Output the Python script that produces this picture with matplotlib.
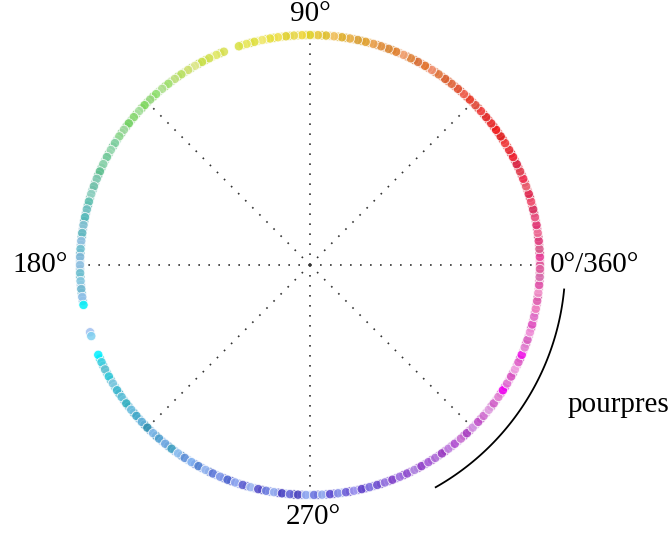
import numpy as np
import matplotlib
matplotlib.use("Agg")
import matplotlib.pyplot as plt

# hue angle (degrees) of each colour and the colour itself
hue_deg = [
    0, 2, 4, 6, 8, 10, 12, 14, 16, 18,
    20, 22, 24, 26, 28, 30, 32, 34, 36, 38,
    40, 42, 44, 46, 48, 50, 52, 54, 56, 58,
    60, 62, 64, 66, 68, 70, 72, 74, 76, 78,
    80, 82, 84, 86, 88, 90, 92, 94, 96, 98,
    100, 102, 104, 106, 108, 112, 114, 116, 118, 120,
    122, 124, 126, 128, 130, 132, 134, 136, 138, 140,
    142, 144, 146, 148, 150, 152, 154, 156, 158, 160,
    162, 164, 166, 168, 170, 172, 174, 176, 178, 180,
    182, 184, 186, 188, 190, 197, 198, 203, 205, 207,
    209, 211, 213, 215, 217, 219, 221, 223, 225, 227,
    229, 231, 233, 235, 237, 239, 241, 243, 245, 247,
    249, 251, 253, 255, 257, 259, 261, 263, 265, 267,
    269, 271, 273, 275, 277, 279, 281, 283, 285, 287,
    289, 291, 293, 295, 297, 299, 301, 303, 305, 307,
    309, 311, 313, 315, 317, 319, 321, 323, 325, 327,
    329, 331, 333, 335, 337, 339, 341, 343, 345, 347,
    349, 351, 353, 355, 357, 359,
]
hue_color = [
    "#e0589a", "#e8409a", "#d86090", "#e04080", "#f07098", "#e03070", "#e85080", "#d83060", "#f05070", "#e02850",
    "#e86070", "#f03050", "#e04050", "#d82040", "#f02030", "#e83038", "#f04040", "#e02020", "#f01818", "#e83030",
    "#e02828", "#f04040", "#e05040", "#e83828", "#f06050", "#e05030", "#e06a40", "#d86030", "#e07840", "#f09070",
    "#e07028", "#d87038", "#e08840", "#f0a070", "#e08030", "#d88838", "#e09040", "#e8a050", "#e0a030", "#d8a038",
    "#e8b048", "#e0b030", "#f0c060", "#e0c030", "#e8c840", "#e0d028", "#f0d840", "#e8d850", "#e0d030", "#f0e050",
    "#e8e040", "#f0e870", "#e0e040", "#e8e860", "#d8e040", "#d8e050", "#e0e868", "#d0e050", "#c8e048", "#e0e890",
    "#d0e070", "#b8e060", "#c0e080", "#a0e070", "#b0e090", "#90e070", "#98d880", "#80d860", "#a8e0a0", "#88d870",
    "#70d060", "#a0d8a0", "#90d890", "#80d0a0", "#98d8b0", "#70c898", "#88d0a8", "#60c090", "#80c8b0", "#70c0a8",
    "#90d0c0", "#60c0b0", "#70c0c0", "#50b8b8", "#80c0d0", "#60b8c0", "#90c0e0", "#70c0d0", "#80b8d8", "#90c0e0",
    "#70c0d0", "#88c8e0", "#70b8d0", "#90c0e8", "#00f0f8", "#a0c0f0", "#80d0f0", "#00f0ff", "#40d0e0", "#60c0d0",
    "#30c8d8", "#80c8e0", "#40b8d0", "#60c0d8", "#30b0c0", "#70c0e0", "#40a8c8", "#60b0d8", "#3090b0", "#80b8e8",
    "#50a0d0", "#70a8e0", "#40a0c0", "#90c0f0", "#6090d8", "#80b0f0", "#5080d0", "#98b8f0", "#6078d8", "#8098e8",
    "#5068d0", "#90a8f0", "#6060d0", "#a0b8f0", "#5850c8", "#7080e0", "#98b0f0", "#4840c0", "#6868d8", "#5048c0",
    "#90a8f0", "#7078e0", "#98b0f0", "#6050d0", "#8890e8", "#7060d8", "#a098f0", "#6040c8", "#8070e0", "#7050d0",
    "#9878e0", "#8040c8", "#a070e0", "#9050d0", "#b088e0", "#9040c8", "#a860d8", "#b070d8", "#9838c0", "#c080e0",
    "#b050d0", "#c870d0", "#a840c0", "#d090e0", "#c050c8", "#d070d0", "#e0a0e0", "#d060c8", "#e080d0", "#f000f0",
    "#e070d0", "#d850c0", "#f0a0e0", "#e060c8", "#f010e8", "#e080d0", "#d860c0", "#f090d8", "#e050c0", "#e070c8",
    "#f080c0", "#e060b0", "#f090c8", "#e050a8", "#d870b0", "#e060a0",
]

# second batch of colours, filling between the first ones
hue_deg_b = [
    1, 3, 5, 7, 9, 11, 13, 15, 17, 19,
    21, 23, 25, 27, 29, 31, 33, 35, 37, 39,
    41, 43, 45, 47, 49, 51, 53, 55, 57, 59,
    61, 63, 65, 67, 69, 71, 73, 75, 77, 79,
    81, 83, 85, 87, 89, 91, 93, 95, 97, 99,
    101, 103, 105, 107, 113, 115, 117, 119, 121, 123,
    125, 127, 129, 131, 133, 135, 137, 139, 141, 143,
    145, 147, 149, 151, 153, 155, 157, 159, 161, 163,
    165, 167, 169, 171, 173, 175, 177, 179, 181, 183,
    185, 187, 189,
    204, 206, 208, 210, 212, 214, 216, 218, 220, 222,
    224, 226, 228, 230, 232, 234, 236, 238, 240, 242,
    244, 246, 248, 250, 252, 254, 256, 258, 260, 262,
    264, 266, 268, 270, 272, 274, 276, 278, 280, 282,
    284, 286, 288, 290, 292, 294, 296, 298, 300, 302,
    304, 306, 308, 310, 312, 314, 316, 318, 320, 322,
    324, 326, 328, 330, 332, 334, 336, 338, 340, 342,
    344, 346, 348, 350, 352, 354, 356, 358,
]
hue_color_b = [
    "#f080b0", "#d03070", "#e870a0", "#c83068", "#e05088", "#f090a8", "#d84068", "#e86878", "#c82848", "#f07080",
    "#e03048", "#d85060", "#f04058", "#e06070", "#d01828", "#f05050", "#e01010", "#f06060", "#d82828", "#f04848",
    "#e06050", "#d83020", "#f07060", "#e04828", "#d86048", "#f08060", "#e05828", "#f09068", "#d86830", "#e88050",
    "#f0a080", "#e07030", "#d88048", "#f0b080", "#e08828", "#e8a060", "#d89040", "#f0b860", "#e0a838", "#f0c070",
    "#d8b040", "#e8c050", "#f0d080", "#d8c038", "#f0e070", "#d8c820", "#e8e078", "#e0d838", "#f0e888", "#d8d830",
    "#e8e050", "#f0f090", "#d8d838", "#e8e878", "#c8d840", "#f0f0a0", "#d8e060", "#c0d850", "#b8e070", "#d0e8a0",
    "#a8d860", "#b8e090", "#98d868", "#c0e8b0", "#80d050", "#a0e090", "#78c860", "#90d880", "#b0e0b0", "#80d080",
    "#70c878", "#a0d8b8", "#68c090", "#88d0a0", "#a8e0c8", "#70c8a0", "#58b890", "#98d0c0", "#68c0b0", "#80c8b8",
    "#58b8b0", "#90c8d0", "#60b0b8", "#a0c8e0", "#68b8c8", "#88c0d8", "#60b0c8", "#98c8e8", "#80b8d8", "#60b8c8",
    "#98c0e0", "#78c0d8", "#88c0e0",
    "#20d8e8", "#50c0d8", "#70d0e0", "#40b0c8", "#60c8d8", "#30a8c0", "#80c0e0", "#50b0d0", "#38a0c0", "#70b8e0",
    "#4098c0", "#68a8d8", "#3088b8", "#88b8f0", "#5098d0", "#78b0e8", "#4888c8", "#a0c8f8", "#6888d8", "#88a8f0",
    "#4870c8", "#a0b8f8", "#7080e0", "#5058c8", "#88a0f0", "#6068d8", "#b0c0f8", "#4848c0", "#8090e8", "#5858d0",
    "#a0b8f8", "#3838b0", "#7078e0", "#a8c0f8", "#5050c8", "#8088e8", "#6858d8", "#98a8f0", "#5838c0", "#8878e0",
    "#7058d8", "#a090e8", "#6838c0", "#9068d8", "#a080e8", "#8038c0", "#a868d8", "#9848c8", "#b880e0", "#9030c0",
    "#c090e0", "#a848c8", "#b868d0", "#d0a0e8", "#b040c8", "#c868d0", "#d8a8e8", "#c048c0", "#e090e0", "#c850c0",
    "#e8a8e8", "#d868c8", "#e020e8", "#f0a8e8", "#d070c8", "#e890d8", "#d040c0", "#f0b0e0", "#e060c0", "#e8a0d8",
    "#d050b0", "#f0a0d0", "#d860b8", "#e890c8", "#d04898", "#f0a0c8", "#e07ab0", "#d85090",
]

grid_deg = [0, 45, 90, 135, 180, 225, 270, 315]
arc_start, arc_end = -5.5, -60.5

fig = plt.figure(figsize=(6.72, 5.36), dpi=100)
ax = fig.add_axes([0, 0, 1, 1])
ax.set_xlim(-310 / 230, 362 / 230)
ax.set_ylim(-271 / 230, 265 / 230)
ax.axis("off")

# lignes pointillées depuis le centre
for g in grid_deg:
    t = np.deg2rad(g)
    ax.plot([0, np.cos(t)], [0, np.sin(t)], color="#333333",
            linestyle=(0, (1, 5)), linewidth=1.2, zorder=1)

tb = np.deg2rad(hue_deg_b)
ax.scatter(np.cos(tb), np.sin(tb), s=45, c=hue_color_b, marker="o",
           edgecolors="white", linewidths=0.6, alpha=0.85, zorder=2)
t = np.deg2rad(hue_deg)
ax.scatter(np.cos(t), np.sin(t), s=45, c=hue_color, marker="o",
           edgecolors="white", linewidths=0.6, alpha=0.85, zorder=3)

# arc des pourpres
ta = np.deg2rad(np.linspace(arc_start, arc_end, 100))
ax.plot(1.11 * np.cos(ta), 1.11 * np.sin(ta), color="black", linewidth=1.3)

font = dict(family="Liberation Serif", fontsize=21)
ax.text(0, 1.09, "90°", ha="center", va="center", **font)
ax.text(1.043, 0.0, "0°/360°", ha="left", va="center", **font)
ax.text(-1.052, 0.0, "180°", ha="right", va="center", **font)
ax.text(0.013, -1.096, "270°", ha="center", va="center", **font)
ax.text(1.122, -0.609, "pourpres", ha="left", va="center", **font)

fig.savefig("out.png", dpi=100)
